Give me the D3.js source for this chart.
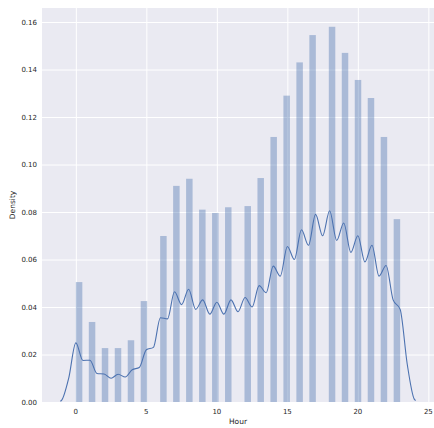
<!DOCTYPE html>
<html>
<head>
<meta charset="utf-8">
<script src="https://cdn.jsdelivr.net/npm/d3@7"></script>
<style>
  html, body { margin: 0; padding: 0; background: #fff; }
  text { font-family: "DejaVu Sans", sans-serif; fill: #262626; }
</style>
</head>
<body>
<div id="chart"></div>
<script>
// histogram: one bar per hour (density), 50 bins over 0..23
var hours = d3.range(0, 24);
var density = [0.0505, 0.0337, 0.0227, 0.0227, 0.0260, 0.0425, 0.0699, 0.0910,
	0.0940, 0.0810, 0.0796, 0.0820, 0.0825, 0.0943, 0.1116, 0.1290,
	0.1430, 0.1545, 0.1580, 0.1470, 0.1356, 0.1280, 0.1116, 0.0770];
var nBins = 50;

// kde line, read at half-hour steps
var kdeX = [-1.1, -1, -0.5, 0, 0.5, 1, 1.5, 2, 2.5, 3, 3.5, 4, 4.5, 5, 5.5, 6, 6.5, 7, 7.5,
	8, 8.5, 9, 9.5, 10, 10.5, 11, 11.5, 12, 12.5, 13, 13.5, 14, 14.5, 15, 15.5,
	16, 16.5, 17, 17.5, 18, 18.5, 19, 19.5, 20, 20.5, 21, 21.5, 22, 22.5, 23, 23.5, 24, 24.1];
var kdeY = [0.0003, 0.0008, 0.0102, 0.0249, 0.0175, 0.0176, 0.0120, 0.0118, 0.0100, 0.0117, 0.0105,
	0.0136, 0.0145, 0.0220, 0.0230, 0.0355, 0.0350, 0.0464, 0.0410, 0.0475, 0.0390,
	0.0430, 0.0370, 0.0420, 0.0370, 0.0430, 0.0380, 0.0440, 0.0400, 0.0490, 0.0460,
	0.0572, 0.0530, 0.0655, 0.0600, 0.0725, 0.0660, 0.0790, 0.0700, 0.0805, 0.0680,
	0.0754, 0.0630, 0.0700, 0.0590, 0.0660, 0.0530, 0.0575, 0.0430, 0.0390, 0.0160, 0.0012, 0.0006];

var xTicks = [0, 5, 10, 15, 20, 25];
var yTicks = [0, 0.02, 0.04, 0.06, 0.08, 0.10, 0.12, 0.14, 0.16];

var W = 434, H = 428;
var margin = {top: 8, right: 0, bottom: 26, left: 42};

var svg = d3.select("#chart").append("svg")
	.attr("width", W)
	.attr("height", H);

var x = d3.scaleLinear().domain([-2.4, 25.4]).range([margin.left, W - margin.right]);
var y = d3.scaleLinear().domain([0, 0.1659]).range([H - margin.bottom, margin.top]);

// background
svg.append("rect")
	.attr("x", margin.left)
	.attr("y", margin.top)
	.attr("width", W - margin.right - margin.left)
	.attr("height", H - margin.bottom - margin.top)
	.attr("fill", "#EAEAF2");

// grid
svg.append("g")
	.attr("transform", "translate(0," + (H - margin.bottom) + ")")
	.call(d3.axisBottom(x).tickValues(xTicks).tickSize(-(H - margin.bottom - margin.top)).tickFormat(""))
	.call(function(g){ g.select(".domain").remove(); })
	.selectAll("line").attr("stroke", "#fff").attr("stroke-width", 1);

svg.append("g")
	.attr("transform", "translate(" + margin.left + ",0)")
	.call(d3.axisLeft(y).tickValues(yTicks).tickSize(-(W - margin.right - margin.left)).tickFormat(""))
	.call(function(g){ g.select(".domain").remove(); })
	.selectAll("line").attr("stroke", "#fff").attr("stroke-width", 1);

// bars
var binW = 23 / nBins;
svg.append("g")
	.selectAll("rect")
	.data(hours)
	.enter()
	.append("rect")
	.attr("x", function(d){
		var k = Math.min(Math.floor(d / binW), nBins - 1);
		return x(k * binW);
	})
	.attr("width", x(binW) - x(0))
	.attr("y", function(d, i){ return y(density[i]); })
	.attr("height", function(d, i){ return y(0) - y(density[i]); })
	.attr("fill", "#4C72B0")
	.attr("fill-opacity", 0.4);

// kde
var line = d3.line()
	.x(function(d, i){ return x(kdeX[i]); })
	.y(function(d){ return y(d); })
	.curve(d3.curveMonotoneX);

svg.append("path")
	.datum(kdeY)
	.attr("d", line)
	.attr("fill", "none")
	.attr("stroke", "#4C72B0")
	.attr("stroke-width", 1.1);

// tick labels
svg.append("g")
	.selectAll("text")
	.data(xTicks)
	.enter()
	.append("text")
	.text(function(d){ return d; })
	.attr("x", function(d){ return x(d); })
	.attr("y", H - margin.bottom + 12)
	.attr("font-size", "7px")
	.attr("text-anchor", "middle");

svg.append("g")
	.selectAll("text")
	.data(yTicks)
	.enter()
	.append("text")
	.text(function(d){ return d3.format(".2f")(d); })
	.attr("x", margin.left - 5)
	.attr("y", function(d){ return y(d) + 2.5; })
	.attr("font-size", "7px")
	.attr("text-anchor", "end");

// axis titles
svg.append("text")
	.text("Hour")
	.attr("x", (margin.left + W - margin.right) / 2)
	.attr("y", H - 4)
	.attr("font-size", "7.5px")
	.attr("text-anchor", "middle");

svg.append("text")
	.text("Density")
	.attr("transform", "translate(15," + ((margin.top + H - margin.bottom) / 2) + ") rotate(-90)")
	.attr("font-size", "7.5px")
	.attr("text-anchor", "middle");
</script>
</body>
</html>
